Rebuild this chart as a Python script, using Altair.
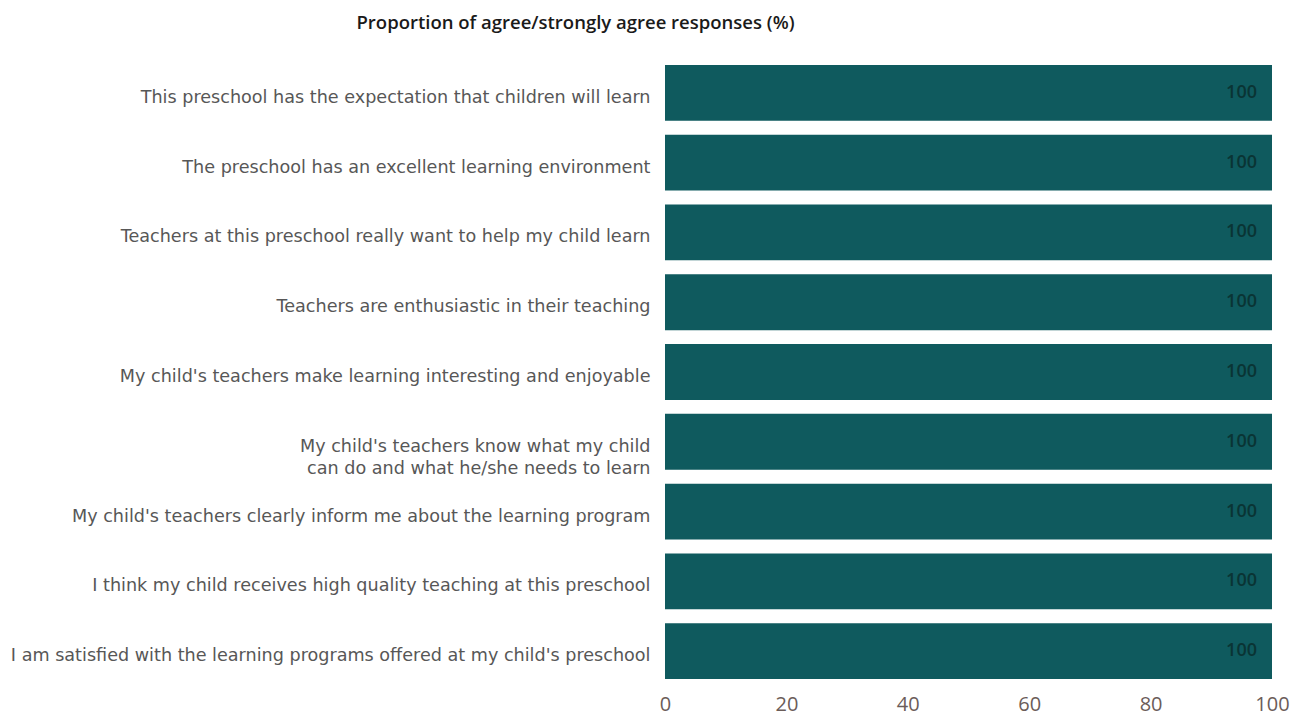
import altair as alt
import pandas as pd

statements = [
    "This preschool has the expectation that children will learn",
    "The preschool has an excellent learning environment",
    "Teachers at this preschool really want to help my child learn",
    "Teachers are enthusiastic in their teaching",
    "My child's teachers make learning interesting and enjoyable",
    "My child's teachers know what my child|can do and what he/she needs to learn",
    "My child's teachers clearly inform me about the learning program",
    "I think my child receives high quality teaching at this preschool",
    "I am satisfied with the learning programs offered at my child's preschool",
]
values = [100, 100, 100, 100, 100, 100, 100, 100, 100]
x_ticks = [0, 20, 40, 60, 80, 100]

df = pd.DataFrame({"statement": statements, "value": values})

label_font = "DejaVu Sans"
font = "Open Sans"

base = alt.Chart(df).encode(
    y=alt.Y(
        "statement:N",
        sort=statements,
        scale=alt.Scale(paddingInner=0.2, paddingOuter=0.1),
        axis=alt.Axis(
            title=None,
            labelExpr="split(datum.label, '|')",
            labelFont=label_font,
            labelFontSize=17.6,
            labelColor="#575757",
            labelPadding=15,
            labelLimit=800,
            labelOffset=5,
            ticks=False,
            domain=False,
            grid=False,
            labelLineHeight=22,
        ),
    ),
)

bars = base.mark_bar(color="#0f5a5e").encode(
    x=alt.X(
        "value:Q",
        scale=alt.Scale(domain=[0, 100]),
        axis=alt.Axis(
            title=None,
            values=x_ticks,
            grid=False,
            ticks=False,
            domain=False,
            labelFlush=False,
            labelFont=font,
            labelFontSize=20,
            labelColor="#6b5c59",
            labelPadding=8,
        ),
    )
)

labels = base.mark_text(
    align="right", dx=-15, font=font, fontSize=18, fontWeight=600, color="#0a3434"
).encode(x="value:Q", text="value:Q")

chart = (
    (bars + labels)
    .properties(
        width=607,
        height=628,
        background="#ffffff",
        autosize=alt.AutoSizeParams(type="none"),
        padding={"left": 657, "top": 50, "right": 30, "bottom": 30},
        title=alt.TitleParams(
            "Proportion of agree/strongly agree responses (%)",
            font=font,
            fontSize=18.5,
            fontWeight=600,
            color="#1a1a1a",
            anchor="middle",
            dx=-393,
            offset=26,
        ),
    )
    .configure_view(strokeWidth=0, stroke="transparent")
)

chart.save("out.html", embed_options={"renderer": "svg", "actions": False})
